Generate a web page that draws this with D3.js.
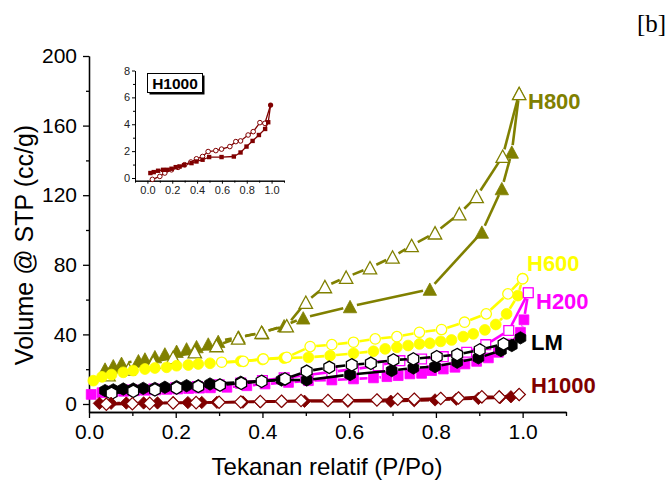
<!DOCTYPE html>
<html><head><meta charset="utf-8">
<script src="https://cdn.jsdelivr.net/npm/d3@7"></script>
<style>body{margin:0;background:#fff}svg{display:block}</style>
</head><body>
<script>
// ---------- DATA (P/Po, volume cc/g) ----------
const h800Ads = [[0.037,20.1],[0.056,22],[0.075,23.4],[0.114,24.9],[0.129,25.9],[0.152,27.2],[0.175,28.8],[0.202,30.3],[0.225,31.7],[0.248,33],[0.275,34.5],[0.298,36],[0.345,38.5],[0.40,41],[0.45,45],[0.494,49.5],[0.602,56],[0.786,66],[0.906,98.8],[0.952,123.8],[0.975,144.8],[0.992,178.5]];
const h800Des = [[0.992,178.5],[0.954,142.4],[0.894,119.3],[0.854,109.4],[0.798,98.4],[0.744,91.1],[0.70,84.5],[0.648,78.3],[0.593,72.9],[0.544,67.5],[0.5,58.5],[0.456,45],[0.398,41.2],[0.344,38],[0.294,33.6],[0.244,30.1],[0.194,26.8],[0.148,24],[0.091,20.1],[0.045,16.9]];
const h600Ads = [[0.01,13.4],[0.03,15.6],[0.052,16.9],[0.079,18.2],[0.102,19.2],[0.129,20.1],[0.152,20.7],[0.179,21.1],[0.202,22],[0.229,22.4],[0.252,23],[0.279,23.4],[0.35,24.6],[0.40,25.6],[0.45,26.4],[0.506,26.8],[0.556,27.8],[0.61,29.1],[0.656,30.3],[0.683,31.7],[0.71,32.6],[0.736,33.6],[0.762,34.5],[0.786,34.9],[0.811,36],[0.836,36.8],[0.863,38.7],[0.886,40.3],[0.913,42.6],[0.938,45.7],[0.963,51.8],[0.989,62.3],[1.0,72]];
const h600Des = [[1.0,72],[0.966,63.3],[0.916,51.8],[0.866,47],[0.813,42.8],[0.762,41.2],[0.71,38.7],[0.66,37.4],[0.61,35.5],[0.56,34.1],[0.51,33],[0.456,26.8],[0.402,25.9],[0.356,24.5],[0.306,24]];
const h200Ads = [[0.005,5.5],[0.03,6.5],[0.055,7],[0.08,7.3],[0.105,7.6],[0.13,7.9],[0.155,8.1],[0.18,8.4],[0.205,8.6],[0.23,8.9],[0.255,9.1],[0.28,9.3],[0.318,9.6],[0.364,10.5],[0.406,11.5],[0.46,12.4],[0.506,13.4],[0.56,13.8],[0.61,14.4],[0.656,15],[0.687,15.7],[0.713,16.3],[0.74,17.3],[0.767,17.6],[0.79,19.2],[0.817,20.1],[0.844,21.1],[0.867,23],[0.894,24.5],[0.921,26.5],[0.944,29.7],[0.97,34.5],[0.995,41.2],[1.003,48.4],[1.013,63.9]];
const h200Des = [[1.013,63.9],[0.968,42.2],[0.915,34.1],[0.871,29.7],[0.817,27.2],[0.767,25.9],[0.717,24.9],[0.667,22],[0.61,20],[0.56,18.5],[0.5,16.5],[0.45,15],[0.4,13.5],[0.35,12],[0.3,11],[0.25,10],[0.2,9.3],[0.15,8.6],[0.1,8],[0.05,7.3]];
const lmAds = [[0.037,7.7],[0.056,8.1],[0.079,8.6],[0.102,8.6],[0.125,9],[0.152,9],[0.175,9.6],[0.202,10],[0.225,10.5],[0.252,10.5],[0.279,11.5],[0.35,12.5],[0.444,13.8],[0.502,13.8],[0.602,16.9],[0.698,19.2],[0.748,20.7],[0.798,21.5],[0.849,24],[0.898,26.5],[0.95,30.7],[0.975,33.6],[0.995,38]];
const lmDes = [[0.995,38],[0.956,34.5],[0.901,31.1],[0.849,28.4],[0.802,27.2],[0.748,25.9],[0.702,25.3],[0.65,23.4],[0.606,22.5],[0.554,21.1],[0.502,18.8],[0.452,14.4],[0.398,13],[0.351,11.9],[0.302,10.9],[0.252,10.1],[0.202,9.2],[0.152,8.1],[0.102,7.3],[0.052,6.1]];
const h1000Ads = [[0.024,0.37],[0.051,0.44],[0.086,0.54],[0.126,0.61],[0.158,0.61],[0.194,0.69],[0.228,0.81],[0.26,0.86],[0.295,0.96],[0.355,1.11],[0.395,1.23],[0.444,1.36],[0.497,1.56],[0.597,1.56],[0.696,1.6],[0.75,1.9],[0.798,2.34],[0.847,2.76],[0.898,3.2],[0.948,3.65],[0.973,4.15],[0.992,5.43]];
const h1000Des = [[0.992,5.43],[0.946,4.07],[0.906,4.12],[0.852,3.45],[0.811,3.2],[0.75,2.76],[0.712,2.71],[0.664,2.34],[0.597,2.15],[0.551,2.04],[0.489,1.97],[0.444,1.6],[0.395,1.43],[0.35,1.19],[0.3,0.99],[0.247,0.79],[0.194,0.61],[0.14,0.37],[0.1,0.12],[0.04,-0.1]];

const xMajorTicks = [0,0.2,0.4,0.6,0.8,1.0];
const xMinorTicks = [0.1,0.3,0.5,0.7,0.9,1.1];
const yMajorTicks = [0,40,80,120,160,200];
const yMinorTicks = [20,60,100,140,180];
const insetXMajor = [0,0.2,0.4,0.6,0.8,1.0];
const insetXMinor = [-0.1,0.1,0.3,0.5,0.7,0.9,1.1];
const insetYMajor = [0,2,4,6,8];
const insetYMinor = [1,3,5,7];
const seriesLabels = ["H800","H600","H200","LM","H1000"];

// ---------- DRAW ----------
const W = 668, H = 483;
const FONT = "'Liberation Sans', Arial, Helvetica, sans-serif";
const svg = d3.select("body").append("svg").attr("width", W).attr("height", H);

const x = d3.scaleLinear().domain([0, 1.1]).range([89, 566]);
const y = d3.scaleLinear().domain([-4.6, 200]).range([412, 56]);

function shapePath(type, s) {
  switch (type) {
    case "tri": return `M0,${-s}L${s*1.08},${s}L${-s*1.08},${s}Z`;
    case "circle": return `M${s},0A${s},${s} 0 1,1 ${-s},0A${s},${s} 0 1,1 ${s},0Z`;
    case "square": return `M${-s},${-s}H${s}V${s}H${-s}Z`;
    case "diamond": return `M0,${-s}L${s},0L0,${s}L${-s},0Z`;
    case "hex": {
      const p = d3.range(6).map(i => { const a = Math.PI/3*i - Math.PI/2; return [s*Math.cos(a), s*Math.sin(a)]; });
      return "M" + p.map(q => q[0].toFixed(2)+","+q[1].toFixed(2)).join("L") + "Z";
    }
  }
}

function drawSeries(g, data, xs, ys, o) {
  const pts = data.map(d => [xs(d[0]), ys(d[1])]);
  const segs = [];
  for (let i = 0; i < pts.length - 1; i++) {
    const [x0, y0] = pts[i], [x1, y1] = pts[i+1];
    const dx = x1 - x0, dy = y1 - y0, L = Math.hypot(dx, dy);
    if (L > 2*o.gap + 0.5) {
      const ux = dx/L, uy = dy/L;
      segs.push([x0 + ux*o.gap, y0 + uy*o.gap, x1 - ux*o.gap, y1 - uy*o.gap]);
    }
  }
  g.append("g").selectAll("line").data(segs).join("line")
    .attr("x1", d => d[0]).attr("y1", d => d[1]).attr("x2", d => d[2]).attr("y2", d => d[3])
    .attr("stroke", o.color).attr("stroke-width", o.lw).attr("stroke-linecap", "butt");
  const mk = o.skipFirst ? pts.slice(1) : pts;
  g.append("g").selectAll("path").data(mk).join("path")
    .attr("transform", d => `translate(${d[0]},${d[1]})`)
    .attr("d", shapePath(o.shape, o.size))
    .attr("fill", o.open ? "#fff" : o.color)
    .attr("stroke", o.color).attr("stroke-width", o.open ? o.sw : 0.8);
}

function styleAxis(g, fs) {
  g.selectAll("path.domain").attr("stroke", "#000").attr("stroke-width", 1.3);
  g.selectAll(".tick line").attr("stroke", "#000").attr("stroke-width", 1.3);
  g.selectAll("text").attr("font-family", FONT).attr("font-size", fs).attr("fill", "#000");
}
const gx = svg.append("g").attr("transform", "translate(0,412)")
  .call(d3.axisBottom(x).tickValues(xMajorTicks).tickFormat(d3.format(".1f")).tickSize(6).tickSizeOuter(0).tickPadding(6));
styleAxis(gx, 21);
const gxm = svg.append("g").attr("transform", "translate(0,412)")
  .call(d3.axisBottom(x).tickValues(xMinorTicks).tickFormat("").tickSize(4).tickSizeOuter(0));
styleAxis(gxm, 21);
const gy = svg.append("g").attr("transform", "translate(89,0)")
  .call(d3.axisLeft(y).tickValues(yMajorTicks).tickFormat(d3.format("d")).tickSize(6).tickSizeOuter(0).tickPadding(6));
styleAxis(gy, 21);
const gym = svg.append("g").attr("transform", "translate(89,0)")
  .call(d3.axisLeft(y).tickValues(yMinorTicks).tickFormat("").tickSize(3).tickSizeOuter(0));
styleAxis(gym, 21);

svg.append("text").attr("x", 327).attr("y", 475).attr("text-anchor", "middle")
  .attr("font-family", FONT).attr("font-size", 24).text("Tekanan relatif (P/Po)");
svg.append("text").attr("transform", "translate(33,245) rotate(-90)").attr("text-anchor", "middle")
  .attr("font-family", FONT).attr("font-size", 25).text("Volume @ STP (cc/g)");
svg.append("text").attr("x", 637).attr("y", 32)
  .attr("font-family", "'Liberation Serif', 'Times New Roman', serif").attr("font-size", 25).text("[b]");

const OLIVE = "#808000", YEL = "#FFFF00", MAG = "#FF00FF", BLK = "#000000", DRED = "#800000";
const plot = svg.append("g");
drawSeries(plot, h800Ads, x, y, {color: OLIVE, shape: "tri", size: 6.2, open: false, lw: 2.6, gap: 7});
drawSeries(plot, h800Des, x, y, {color: OLIVE, shape: "tri", size: 6.2, open: true, sw: 1.3, lw: 2.6, gap: 7});
drawSeries(plot, h600Ads, x, y, {color: YEL, shape: "circle", size: 5.4, open: false, lw: 2.6, gap: 6});
drawSeries(plot, h600Des, x, y, {color: YEL, shape: "circle", size: 5.2, open: true, sw: 1.3, lw: 2.6, gap: 6});
drawSeries(plot, h200Ads, x, y, {color: MAG, shape: "square", size: 4.9, open: false, lw: 2.6, gap: 6});
drawSeries(plot, h200Des, x, y, {color: MAG, shape: "square", size: 4.9, open: true, sw: 1.3, lw: 2.6, gap: 6});
drawSeries(plot, lmAds, x, y, {color: BLK, shape: "hex", size: 6.2, open: false, lw: 2.6, gap: 6.5});
drawSeries(plot, lmDes, x, y, {color: BLK, shape: "hex", size: 6.2, open: true, sw: 1.3, lw: 2.6, gap: 6.5, skipFirst: true});
drawSeries(plot, h1000Ads, x, y, {color: DRED, shape: "diamond", size: 6.2, open: false, lw: 2.6, gap: 6});
drawSeries(plot, h1000Des, x, y, {color: DRED, shape: "diamond", size: 6.2, open: true, sw: 1.2, lw: 2.6, gap: 6});

const labelPos = [[528,109,OLIVE],[527,270.5,YEL],[536,309,MAG],[531,350,BLK],[531,392.5,DRED]];
svg.append("g").selectAll("text").data(seriesLabels).join("text")
  .attr("x", (d,i) => labelPos[i][0]).attr("y", (d,i) => labelPos[i][1])
  .attr("fill", (d,i) => labelPos[i][2])
  .attr("font-family", FONT).attr("font-weight", "bold").attr("font-size", 22).text(d => d);

// ---------- INSET ----------
const ix = d3.scaleLinear().domain([-0.1, 1.1]).range([135, 284]);
const iy = d3.scaleLinear().domain([-0.2, 8]).range([180.7, 70.5]);
const inset = svg.append("g");
function styleInset(g) {
  g.selectAll("path.domain").attr("stroke", "#000").attr("stroke-width", 1);
  g.selectAll(".tick line").attr("stroke", "#000").attr("stroke-width", 1);
  g.selectAll("text").attr("font-family", FONT).attr("font-size", 11).attr("fill", "#222");
}
styleInset(inset.append("g").attr("transform", "translate(0,180.7)")
  .call(d3.axisBottom(ix).tickValues(insetXMajor).tickFormat(d3.format(".1f")).tickSize(3).tickSizeOuter(0).tickPadding(3)));
styleInset(inset.append("g").attr("transform", "translate(0,180.7)")
  .call(d3.axisBottom(ix).tickValues(insetXMinor).tickFormat("").tickSize(2).tickSizeOuter(0)));
styleInset(inset.append("g").attr("transform", "translate(135,0)")
  .call(d3.axisLeft(iy).tickValues(insetYMajor).tickFormat(d3.format("d")).tickSize(3).tickSizeOuter(0).tickPadding(2)));
styleInset(inset.append("g").attr("transform", "translate(135,0)")
  .call(d3.axisLeft(iy).tickValues(insetYMinor).tickFormat("").tickSize(2).tickSizeOuter(0)));

const line = (xs, ys) => d3.line().x(d => xs(d[0])).y(d => ys(d[1]));
inset.append("path").datum(h1000Des).attr("d", line(ix, iy)).attr("fill", "none").attr("stroke", DRED).attr("stroke-width", 1.3);
inset.append("path").datum(h1000Ads).attr("d", line(ix, iy)).attr("fill", "none").attr("stroke", DRED).attr("stroke-width", 1.3);
inset.append("g").selectAll("path").data(h1000Des.slice(1)).join("path")
  .attr("transform", d => `translate(${ix(d[0])},${iy(d[1])})`).attr("d", shapePath("circle", 2.3))
  .attr("fill", "#fff").attr("stroke", DRED).attr("stroke-width", 1);
inset.append("g").selectAll("path").data(h1000Ads.slice(0, -1)).join("path")
  .attr("transform", d => `translate(${ix(d[0])},${iy(d[1])})`).attr("d", shapePath("square", 2.2))
  .attr("fill", DRED).attr("stroke", "none");
inset.append("path").datum(h1000Ads[h1000Ads.length-1])
  .attr("transform", d => `translate(${ix(d[0])},${iy(d[1])})`).attr("d", shapePath("circle", 2.6))
  .attr("fill", DRED);

inset.append("rect").attr("x", 149.5).attr("y", 75.5).attr("width", 55).attr("height", 19).attr("fill", "#000");
inset.append("rect").attr("x", 147.5).attr("y", 73.5).attr("width", 55).attr("height", 19).attr("fill", "#fff").attr("stroke", "#000").attr("stroke-width", 1);
inset.append("text").attr("x", 175).attr("y", 89).attr("text-anchor", "middle")
  .attr("font-family", FONT).attr("font-weight", "bold").attr("font-size", 15.5).text("H1000");
</script>
</body></html>
